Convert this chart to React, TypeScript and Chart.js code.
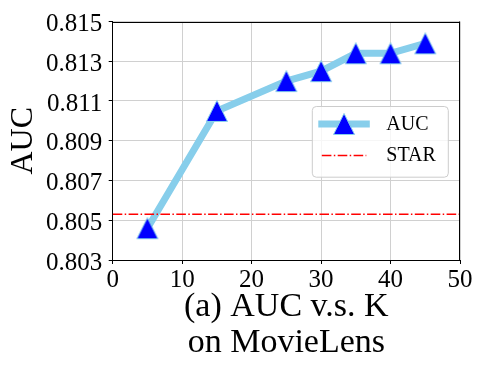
import React, { useEffect, useRef } from 'react';
import { Chart, registerables } from 'chart.js';

Chart.register(...registerables);

const kValues = [5, 15, 25, 30, 35, 40, 45];
const aucValues = [0.8046, 0.8105, 0.812, 0.8125, 0.8134, 0.8134, 0.8139];
const starValue = 0.8053;
const xTicks = [0, 10, 20, 30, 40, 50];
const yTicks = [0.803, 0.805, 0.807, 0.809, 0.811, 0.813, 0.815];
const seriesLabels = ['AUC', 'STAR'];
const yAxisTitle = 'AUC';
const xAxisTitle = ['(a) AUC v.s. K', 'on MovieLens'];

const FONT = "'Liberation Serif', 'DejaVu Serif', serif";
const LINE_COLOR = '#87CEEB';
const MARKER_COLOR = '#0000FF';
const STAR_COLOR = '#FF0000';
const STAR_DASH = [9.6, 2.4, 1.5, 2.4];

function makeTriangle(): HTMLCanvasElement {
  const c = document.createElement('canvas');
  c.width = 24;
  c.height = 24;
  const g = c.getContext('2d')!;
  g.beginPath();
  g.moveTo(12, 1.5);
  g.lineTo(22.5, 22.5);
  g.lineTo(1.5, 22.5);
  g.closePath();
  g.fillStyle = MARKER_COLOR;
  g.fill();
  g.strokeStyle = LINE_COLOR;
  g.lineWidth = 1;
  g.stroke();
  return c;
}

export default function App() {
  const ref = useRef<HTMLCanvasElement | null>(null);

  useEffect(() => {
    if (!ref.current) return;
    const tri = makeTriangle();

    const decor = {
      id: 'decor',
      afterDatasetsDraw(chart: any) {
        const { ctx, chartArea: a } = chart;
        ctx.save();
        // top and right spines
        ctx.strokeStyle = '#000';
        ctx.lineWidth = 1;
        ctx.beginPath();
        ctx.moveTo(a.left, Math.round(a.top) + 0.5);
        ctx.lineTo(a.right, Math.round(a.top) + 0.5);
        ctx.moveTo(Math.round(a.right) - 0.5, a.top);
        ctx.lineTo(Math.round(a.right) - 0.5, a.bottom);
        ctx.stroke();

        // legend
        const bw = 136;
        const bh = 70.7;
        const bx = a.right - 11.7 - bw;
        const by = a.top + 85;
        const r = 4;
        ctx.beginPath();
        ctx.moveTo(bx + r, by);
        ctx.lineTo(bx + bw - r, by);
        ctx.arcTo(bx + bw, by, bx + bw, by + r, r);
        ctx.lineTo(bx + bw, by + bh - r);
        ctx.arcTo(bx + bw, by + bh, bx + bw - r, by + bh, r);
        ctx.lineTo(bx + r, by + bh);
        ctx.arcTo(bx, by + bh, bx, by + bh - r, r);
        ctx.lineTo(bx, by + r);
        ctx.arcTo(bx, by, bx + r, by, r);
        ctx.closePath();
        ctx.fillStyle = 'rgba(255,255,255,0.8)';
        ctx.fill();
        ctx.strokeStyle = '#cccccc';
        ctx.lineWidth = 1;
        ctx.stroke();

        const hx0 = bx + 9.5;
        const hx1 = bx + 54;
        const y1 = by + 17.5;
        const y2 = by + 49;
        // AUC handle
        ctx.strokeStyle = LINE_COLOR;
        ctx.lineWidth = 7;
        ctx.lineCap = 'square';
        ctx.beginPath();
        ctx.moveTo(hx0, y1);
        ctx.lineTo(hx1, y1);
        ctx.stroke();
        ctx.drawImage(tri, (hx0 + hx1) / 2 - 12, y1 - 12);
        // STAR handle
        ctx.lineCap = 'butt';
        ctx.strokeStyle = STAR_COLOR;
        ctx.lineWidth = 1.5;
        ctx.setLineDash(STAR_DASH);
        ctx.beginPath();
        ctx.moveTo(hx0, y2);
        ctx.lineTo(hx1, y2);
        ctx.stroke();
        ctx.setLineDash([]);

        ctx.fillStyle = '#000';
        ctx.font = `20px ${FONT}`;
        ctx.textBaseline = 'middle';
        ctx.textAlign = 'left';
        ctx.fillText(seriesLabels[0], bx + 74, y1 + 1);
        ctx.fillText(seriesLabels[1], bx + 74, y2);
        ctx.restore();
      },
    };

    const chart = new Chart(ref.current, {
      type: 'line',
      data: {
        datasets: [
          {
            label: seriesLabels[0],
            data: kValues.map((k, i) => ({ x: k, y: aucValues[i] })),
            borderColor: LINE_COLOR,
            backgroundColor: MARKER_COLOR,
            borderWidth: 7,
            pointStyle: tri as any,
            pointRadius: 10,
            pointHoverRadius: 10,
            tension: 0,
            order: 1,
          },
          {
            label: seriesLabels[1],
            data: [
              { x: xTicks[0], y: starValue },
              { x: xTicks[xTicks.length - 1], y: starValue },
            ],
            borderColor: STAR_COLOR,
            borderWidth: 1.5,
            borderDash: STAR_DASH,
            pointRadius: 0,
            order: 0,
          },
        ],
      },
      options: {
        responsive: false,
        animation: false,
        devicePixelRatio: 1,
        layout: { padding: { left: 0, top: 19.3, right: 23, bottom: 0 } },
        plugins: {
          legend: { display: false },
          tooltip: { enabled: false },
        },
        scales: {
          x: {
            type: 'linear',
            min: xTicks[0],
            max: xTicks[xTicks.length - 1],
            afterBuildTicks: (s: any) => {
              s.ticks = xTicks.map((v) => ({ value: v }));
            },
            afterFit: (s: any) => {
              s.height = 115;
            },
            grid: {
              color: '#d0d0d0',
              lineWidth: 1,
              tickLength: 4,
              tickColor: '#000',
            },
            border: { color: '#000', width: 1 },
            ticks: {
              color: '#000',
              font: { family: FONT, size: 25 },
              padding: 1,
              maxRotation: 0,
              autoSkip: false,
              callback: (v: any) => String(v),
            },
            title: {
              display: true,
              text: xAxisTitle,
              color: '#000',
              font: { family: FONT, size: 34, lineHeight: 36.5 / 34 },
              padding: { top: 0, bottom: 13.4 },
            },
          },
          y: {
            type: 'linear',
            min: yTicks[0],
            max: yTicks[yTicks.length - 1],
            afterBuildTicks: (s: any) => {
              s.ticks = yTicks.map((v) => ({ value: v }));
            },
            afterFit: (s: any) => {
              s.width = 112.7;
            },
            grid: {
              color: '#d0d0d0',
              lineWidth: 1,
              tickLength: 4,
              tickColor: '#000',
            },
            border: { color: '#000', width: 1 },
            ticks: {
              color: '#000',
              font: { family: FONT, size: 25 },
              padding: 6.5,
              labelOffset: 3,
              autoSkip: false,
              callback: (v: any) => Number(v).toFixed(3),
            },
            title: {
              display: true,
              text: yAxisTitle,
              color: '#000',
              font: { family: FONT, size: 32, lineHeight: 1 },
              padding: { top: 8, bottom: 0 },
            },
          },
        },
      },
      plugins: [decor],
    } as any);

    return () => chart.destroy();
  }, []);

  return (
    <div style={{ position: 'absolute', left: 0, top: 0, width: 483, height: 375, background: '#fff' }}>
      <canvas ref={ref} width={483} height={375} style={{ display: 'block' }} />
    </div>
  );
}
